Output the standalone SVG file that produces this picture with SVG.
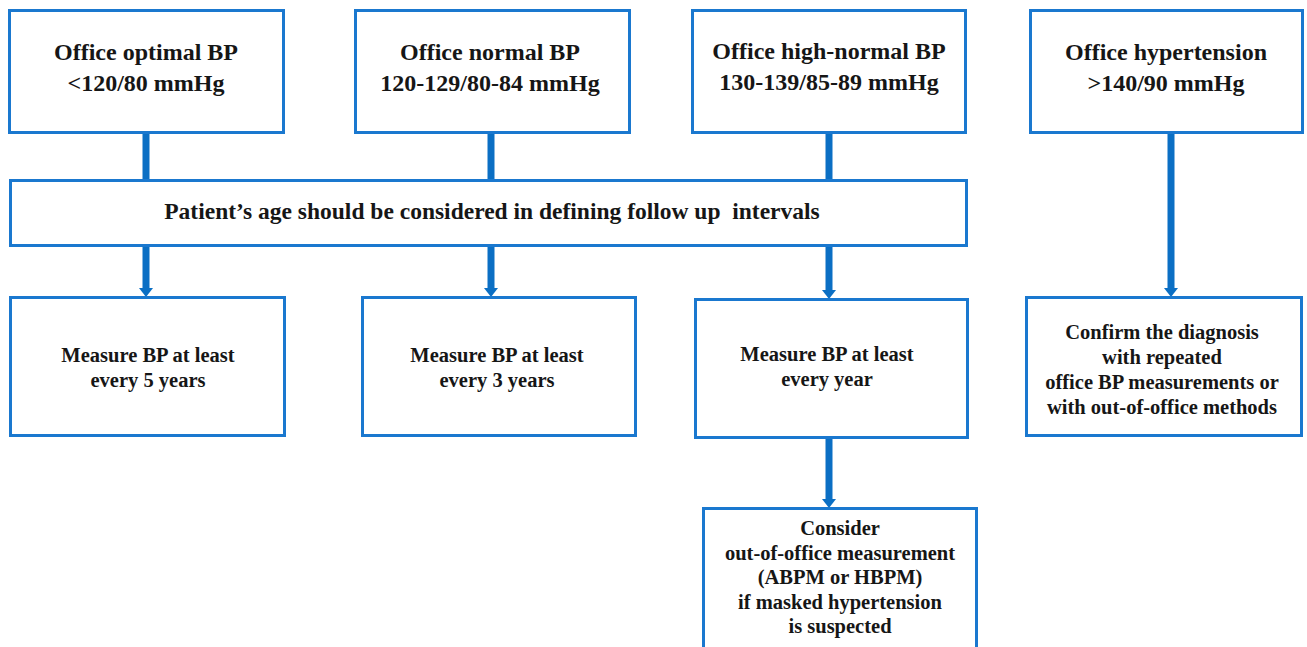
<svg xmlns="http://www.w3.org/2000/svg" width="1307" height="647" viewBox="0 0 1307 647">
  <defs>
    <marker id="arrowhead" markerUnits="userSpaceOnUse" markerWidth="9" markerHeight="14" refX="0" refY="7" orient="auto" viewBox="0 0 9 14">
      <path d="M0,0 L9,7 L0,14 Z" fill="#0b6fc4"/>
    </marker>
  </defs>
  <style>
    .box { fill: #ffffff; stroke: #1a78cf; stroke-width: 3; }
    .t { font-weight: bold; fill: #161616; text-anchor: middle; }
    .big { font-size: 24px; }
    .mid { font-size: 23.5px; }
    .sm { font-size: 20.5px; }
    .conn { stroke: #0b6fc4; stroke-width: 7; fill: none; }
  </style>
  <rect width="1307" height="647" fill="#ffffff"/>

  <g id="connectors">
    <line class="conn" x1="146" y1="133" x2="146" y2="180"/>
    <line class="conn" x1="491" y1="133" x2="491" y2="180"/>
    <line class="conn" x1="829" y1="133" x2="829" y2="180"/>
    <line class="conn" x1="146" y1="246" x2="146" y2="288" marker-end="url(#arrowhead)"/>
    <line class="conn" x1="491" y1="246" x2="491" y2="288" marker-end="url(#arrowhead)"/>
    <line class="conn" x1="829" y1="246" x2="829" y2="290" marker-end="url(#arrowhead)"/>
    <line class="conn" x1="1171" y1="133" x2="1171" y2="288" marker-end="url(#arrowhead)"/>
    <line class="conn" x1="829" y1="438" x2="829" y2="499" marker-end="url(#arrowhead)"/>
  </g>

  <g font-family="'Liberation Serif', 'Times New Roman', 'DejaVu Serif', serif">
  <g id="optimal">
    <rect class="box" x="9.5" y="10.5" width="274" height="122"/>
    <text class="t big" x="146" y="60">Office optimal BP</text>
    <text class="t big" x="146" y="91">&lt;120/80 mmHg</text>
  </g>
  <g id="normal">
    <rect class="box" x="355.5" y="10.5" width="274" height="122"/>
    <text class="t big" x="490" y="60">Office normal BP</text>
    <text class="t big" x="490" y="91">120-129/80-84 mmHg</text>
  </g>
  <g id="high-normal">
    <rect class="box" x="692.5" y="10.5" width="273" height="122"/>
    <text class="t big" x="829" y="59">Office high-normal BP</text>
    <text class="t big" x="829" y="90">130-139/85-89 mmHg</text>
  </g>
  <g id="hypertension">
    <rect class="box" x="1030.5" y="10.5" width="272" height="122"/>
    <text class="t big" x="1166" y="60">Office hypertension</text>
    <text class="t big" x="1166" y="91">&gt;140/90 mmHg</text>
  </g>

  <g id="age-note">
    <rect class="box" x="10.5" y="180.5" width="956" height="65"/>
    <text class="t mid" x="492" y="219" xml:space="preserve">Patient’s age should be considered in defining follow up  intervals</text>
  </g>

  <g id="every-5-years">
    <rect class="box" x="10.5" y="297.5" width="274" height="138"/>
    <text class="t sm" x="148" y="362">Measure BP at least</text>
    <text class="t sm" x="148" y="387">every 5 years</text>
  </g>
  <g id="every-3-years">
    <rect class="box" x="362.5" y="297.5" width="273" height="138"/>
    <text class="t sm" x="497" y="362">Measure BP at least</text>
    <text class="t sm" x="497" y="387">every 3 years</text>
  </g>
  <g id="every-year">
    <rect class="box" x="695.5" y="299.5" width="272" height="138"/>
    <text class="t sm" x="827" y="361">Measure BP at least</text>
    <text class="t sm" x="827" y="386">every year</text>
  </g>
  <g id="confirm">
    <rect class="box" x="1026.5" y="297.5" width="275" height="138"/>
    <text class="t sm" x="1162" y="339">Confirm the diagnosis</text>
    <text class="t sm" x="1162" y="364">with repeated</text>
    <text class="t sm" x="1162" y="389">office BP measurements or</text>
    <text class="t sm" x="1162" y="414">with out-of-office methods</text>
  </g>
  <g id="masked">
    <rect class="box" x="703.5" y="508.5" width="273" height="145"/>
    <text class="t sm" x="840" y="535">Consider</text>
    <text class="t sm" x="840" y="560">out-of-office measurement</text>
    <text class="t sm" x="840" y="584">(ABPM or HBPM)</text>
    <text class="t sm" x="840" y="609">if masked hypertension</text>
    <text class="t sm" x="840" y="633">is suspected</text>
  </g>
  </g>
</svg>
